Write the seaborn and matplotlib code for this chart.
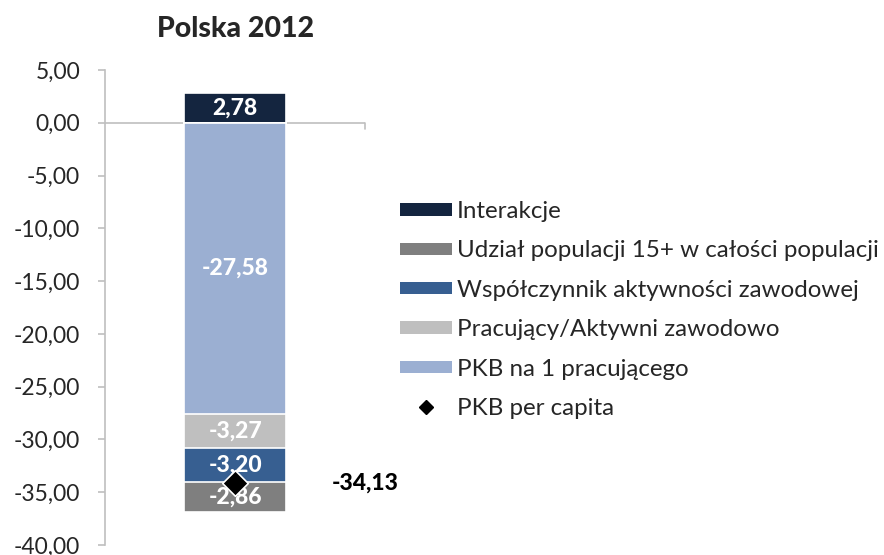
import numpy as np
import pandas as pd
import matplotlib
matplotlib.use("Agg")
import matplotlib.pyplot as plt
import seaborn as sns
from matplotlib.patches import Patch
from matplotlib.lines import Line2D

# data
category = ["Polska 2012"]
pos_names = ["Interakcje"]
pos_values = [2.78]
# negative parts, from the zero line downward
neg_names = ["PKB na 1 pracującego", "Pracujący/Aktywni zawodowo",
             "Współczynnik aktywności zawodowej", "Udział populacji 15+ w całości populacji"]
neg_values = [-27.58, -3.27, -3.20, -2.86]
total_value = -34.13

colors = {
    "Interakcje": "#14253f",
    "Udział populacji 15+ w całości populacji": "#7f7f7f",
    "Współczynnik aktywności zawodowej": "#375f91",
    "Pracujący/Aktywni zawodowo": "#bfbfbf",
    "PKB na 1 pracującego": "#9bafd2",
}
legend_order = ["Interakcje", "Udział populacji 15+ w całości populacji",
                "Współczynnik aktywności zawodowej", "Pracujący/Aktywni zawodowo",
                "PKB na 1 pracującego"]

sns.set_style("white")
plt.rcParams["font.family"] = ["Lato", "DejaVu Sans"]

fig = plt.figure(figsize=(8.84, 5.55), dpi=100)
ax = fig.add_axes([0.119, 0.018, 0.294, 0.856])

bar_w = 0.39
# positive part
df_pos = pd.DataFrame({"cat": category, "val": pos_values})
sns.barplot(data=df_pos, x="cat", y="val", color=colors["Interakcje"], width=bar_w,
            edgecolor="white", linewidth=1.2, ax=ax, saturation=1)

# negative parts stacked: draw cumulative bars from deepest to shallowest
cum = np.cumsum(neg_values)
for name, c in reversed(list(zip(neg_names, cum))):
    d = pd.DataFrame({"cat": category, "val": [c]})
    sns.barplot(data=d, x="cat", y="val", color=colors[name], width=bar_w,
                edgecolor="white", linewidth=1.2, ax=ax, saturation=1)

# segment labels
def fmt(v):
    return f"{v:.2f}".replace(".", ",")

lab_kw = dict(ha="center", va="center", color="white", fontsize=16.5, fontweight=900)
ax.text(0, pos_values[0] / 2, fmt(pos_values[0]), **lab_kw)
tops = np.concatenate([[0], cum[:-1]])
for v, t in zip(neg_values, tops):
    ax.text(0, t + v / 2, fmt(v), **lab_kw)

# total marker
sns.scatterplot(x=[0], y=[total_value], marker="D", s=170, color="black",
                edgecolor="white", linewidth=1.2, ax=ax, zorder=5)
ax.text(0.5, total_value, fmt(total_value), ha="center", va="center",
        color="black", fontsize=16.5, fontweight=900, clip_on=False)

ax.set_xlim(-0.5, 0.5)
ax.set_ylim(-40, 5)
ax.set_yticks(np.arange(-40, 5.1, 5))
ax.set_yticklabels([fmt(v) for v in np.arange(-40, 5.1, 5)], fontsize=16.5)
ax.set_xticks([])
ax.set_xlabel("")
ax.set_ylabel("")
for s in ["top", "right", "bottom"]:
    ax.spines[s].set_visible(False)
ax.spines["left"].set_color("#bfbfbf")
ax.spines["left"].set_linewidth(1.2)
ax.tick_params(axis="y", length=5, width=1.2, color="#bfbfbf", pad=13, left=True)
# category axis at zero with end tick
ax.axhline(0, color="#bfbfbf", lw=1.2, zorder=0.5)
ax.plot([0.5, 0.5], [0, -0.55], color="#bfbfbf", lw=1.2, clip_on=False)

ax.set_title("Polska 2012", fontsize=20.5, fontweight=900, pad=24)

handles = [Patch(facecolor=colors[n], edgecolor="none") for n in legend_order]
handles.append(Line2D([], [], marker="D", color="black", linestyle="none", markersize=7))
labels = legend_order + ["PKB per capita"]
fig.legend(handles, labels, loc="center left", bbox_to_anchor=(0.4525, 0.4414),
           frameon=False, fontsize=17.4, handlelength=2.15, handleheight=0.42,
           handletextpad=0.2, labelspacing=0.76, borderpad=0, borderaxespad=0)

fig.savefig("out.png", dpi=100)
